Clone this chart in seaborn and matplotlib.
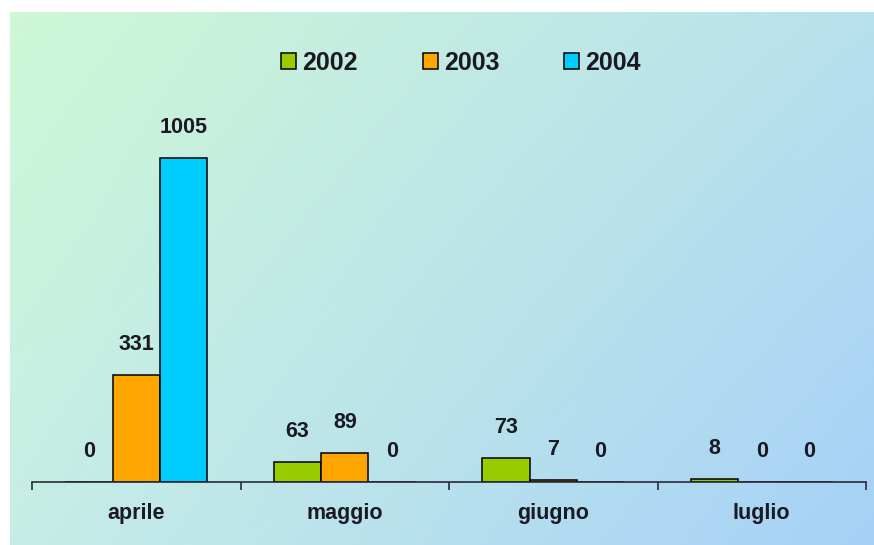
import numpy as np
import pandas as pd
import matplotlib
matplotlib.use("Agg")
import matplotlib.pyplot as plt
import seaborn as sns

# Monthly counts per year
months = ["aprile", "maggio", "giugno", "luglio"]
years = ["2002", "2003", "2004"]
values_2002 = [0, 63, 73, 8]
values_2003 = [331, 89, 7, 0]
values_2004 = [1005, 0, 0, 0]

colors = ["#99CC00", "#FFA500", "#00CCFF"]
text_color = "#1a1a22"
axis_color = "#2a2a3a"

series = {"2002": values_2002, "2003": values_2003, "2004": values_2004}
df = pd.DataFrame(
    [(m, y, series[y][i]) for y in years for i, m in enumerate(months)],
    columns=["mese", "anno", "valore"],
)

sns.set_theme(style="white")
plt.rcParams["font.family"] = ["Liberation Sans", "DejaVu Sans"]
plt.rcParams["font.weight"] = "bold"

W, H = 874, 545
fig = plt.figure(figsize=(W / 100, H / 100), dpi=100)
fig.patch.set_facecolor("white")

# Diagonal gradient backdrop: mint at top-left, sky blue at bottom-right
bg = fig.add_axes([10 / W, 0, 1 - 10 / W, 1 - 12 / H])
bg.set_axis_off()
corners = np.array([
    [[0.81, 0.97, 0.84], [0.72, 0.88, 0.93]],
    [[0.78, 0.93, 0.90], [0.65, 0.82, 0.97]],
])
n = 200
u = np.linspace(0, 1, n)
U, V = np.meshgrid(u, u)
grad = (corners[0, 0] * ((1 - U) * (1 - V))[..., None]
        + corners[0, 1] * (U * (1 - V))[..., None]
        + corners[1, 0] * ((1 - U) * V)[..., None]
        + corners[1, 1] * (U * V)[..., None])
bg.imshow(grad, aspect="auto", extent=[0, 1, 0, 1], origin="upper")
bg.set_xlim(0, 1)
bg.set_ylim(0, 1)

ax = fig.add_axes([32 / W, (H - 482) / H, (866 - 32) / W, (482 - 95) / H])
ax.patch.set_alpha(0)

sns.barplot(
    data=df, x="mese", y="valore", hue="anno", order=months, hue_order=years,
    palette=colors, width=0.68, edgecolor="black", linewidth=1.1,
    saturation=1, ax=ax, legend=True,
)

ax.set_ylim(0, 1200)
ax.set_xlim(-0.5, len(months) - 0.5)

# Value labels above each bar
for yi, container in enumerate(ax.containers):
    vals = series[years[yi]]
    for i, bar in enumerate(container):
        cx = bar.get_x() + bar.get_width() / 2
        ax.annotate(
            str(vals[i]), xy=(cx, vals[i]), xytext=(0, 22),
            textcoords="offset points", ha="center", va="center",
            fontsize=15.5, fontweight="bold", color=text_color,
        )

# Axis styling: only the baseline with ticks between categories
for side in ["left", "right", "top"]:
    ax.spines[side].set_visible(False)
ax.spines["bottom"].set_color(axis_color)
ax.spines["bottom"].set_linewidth(1.2)
ax.set_yticks([])
ax.set_xlabel("")
ax.set_ylabel("")
ax.set_xticks(range(len(months)))
ax.set_xticklabels(months, fontsize=15.5, fontweight="bold", color=text_color)
ax.tick_params(axis="x", which="major", length=0, pad=15)
ax.set_xticks(np.arange(-0.5, len(months), 1.0), minor=True)
ax.tick_params(axis="x", which="minor", bottom=True, length=6, width=1.2,
               color=axis_color, direction="out")

handles, labels = ax.get_legend_handles_labels()
ax.get_legend().remove()
fig.legend(
    handles, labels, loc="center", bbox_to_anchor=(461 / W, 1 - 63 / H),
    ncol=3, frameon=False, prop={"weight": "bold", "size": 18},
    handlelength=0.6, handleheight=0.6, handletextpad=0.25, columnspacing=2.6,
    labelcolor=text_color,
)

fig.savefig("out.png", dpi=100, facecolor=fig.get_facecolor())
